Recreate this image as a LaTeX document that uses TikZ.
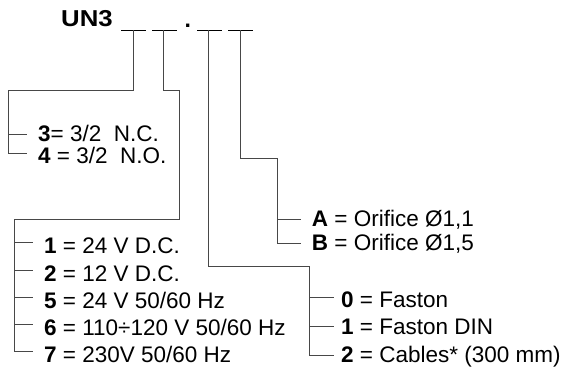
\documentclass[tikz,border=0pt]{standalone}
\usepackage{fontspec}
\setmainfont{Liberation Sans}
\begin{document}
\begin{tikzpicture}[x=1pt,y=-1pt,
  wire/.style={draw=black!72, line width=0.9pt},
  blank/.style={draw=black, line width=0.9pt},
  lbl/.style={anchor=base west, inner sep=0pt, font=\fontsize{22.5}{27}\selectfont},
  title/.style={anchor=base west, inner sep=0pt, font=\fontsize{23}{27}\selectfont\bfseries}]
\useasboundingbox (0,0) rectangle (567,367);
% header
\node[title] (un) at (61,26.8) {\scalebox{1.12}[1]{UN3}};
\node[title] (dot) at (184.5,27.5) {.};
\coordinate (b1l) at (121,30); \coordinate (b1r) at (146,30);
\coordinate (b2l) at (152,30); \coordinate (b2r) at (177,30);
\coordinate (b3l) at (197,30); \coordinate (b3r) at (222,30);
\coordinate (b4l) at (228,30); \coordinate (b4r) at (253,30);
\draw[blank] (b1l) -- (b1r);
\draw[blank] (b2l) -- (b2r);
\draw[blank] (b3l) -- (b3r);
\draw[blank] (b4l) -- (b4r);
\coordinate (b1) at (133.3,30);
\coordinate (b2) at (163.3,30);
\coordinate (b3) at (208.3,30);
\coordinate (b4) at (240,30);
% connector 1 -> 3/4 list
\coordinate (j1) at (8.3,90.7);
\coordinate (e3) at (27,134);
\coordinate (e4) at (27,153.5);
\draw[wire] (b1) |- (j1) |- (e4);
\draw[wire] (e3 -| j1) -- (e3);
\node[lbl] (t3) at (38,141.5) {\textbf{3}= 3/2\ \ N.C.};
\node[lbl] (t4) at (38,163) {\textbf{4} = 3/2\ \ N.O.};
% connector 2 -> voltage list
\coordinate (j2a) at (179.3,90);
\coordinate (j2b) at (14,219.5);
\coordinate (v1) at (33.3,242.7);
\coordinate (v2) at (33.3,270);
\coordinate (v5) at (33.3,297.3);
\coordinate (v6) at (33.3,324.5);
\coordinate (v7) at (33.3,351.5);
\draw[wire] (b2) |- (j2a) |- (j2b) |- (v7);
\foreach \c in {v1,v2,v5,v6} \draw[wire] (\c -| j2b) -- (\c);
\node[lbl] (tv1) at (44,253.7) {\textbf{1} = 24 V D.C.};
\node[lbl] (tv2) at (44,281) {\textbf{2} = 12 V D.C.};
\node[lbl] (tv5) at (44,308.3) {\textbf{5} = 24 V 50/60 Hz};
\node[lbl] (tv6) at (44,335.6) {\textbf{6} = 110÷120 V 50/60 Hz};
\node[lbl] (tv7) at (44,362.9) {\textbf{7} = 230V 50/60 Hz};
% connector 3 -> connection list
\coordinate (j3) at (309.3,266.7);
\coordinate (f0) at (334,297.7);
\coordinate (f1) at (334,326);
\coordinate (f2) at (334,355);
\draw[wire] (b3) |- (j3) |- (f2);
\draw[wire] (f0 -| j3) -- (f0);
\draw[wire] (f1 -| j3) -- (f1);
\node[lbl] (tf0) at (341,307) {\textbf{0} = Faston};
\node[lbl] (tf1) at (341,334.5) {\textbf{1} = Faston DIN};
\node[lbl] (tf2) at (341,362) {\textbf{2} = Cables* (300 mm)};
% connector 4 -> orifice list
\coordinate (j4) at (277,158.5);
\coordinate (oA) at (301,219.3);
\coordinate (oB) at (301,243);
\draw[wire] (b4) |- (j4) |- (oB);
\draw[wire] (oA -| j4) -- (oA);
\node[lbl] (tA) at (311.7,226.5) {\textbf{A} = Orifice Ø1,1};
\node[lbl] (tB) at (311.7,250) {\textbf{B} = Orifice Ø1,5};
\end{tikzpicture}
\end{document}
